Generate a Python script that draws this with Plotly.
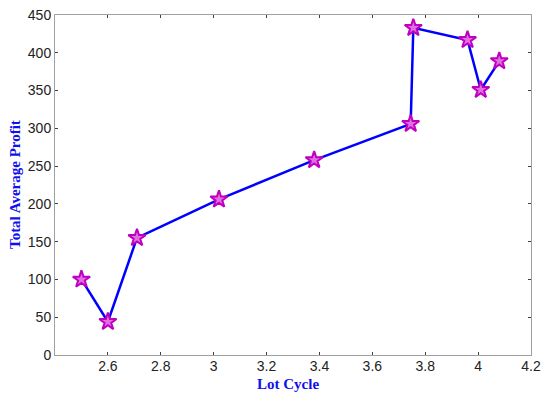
import plotly.graph_objects as go

lot_cycle = [2.50, 2.60, 2.71, 3.02, 3.38, 3.745, 3.755, 3.96, 4.01, 4.08]
total_avg_profit = [100, 44, 155, 206, 258, 306, 433, 417, 351, 389]

x_ticks = [2.6, 2.8, 3.0, 3.2, 3.4, 3.6, 3.8, 4.0, 4.2]
x_tick_labels = ["2.6", "2.8", "3", "3.2", "3.4", "3.6", "3.8", "4", "4.2"]
y_ticks = [0, 50, 100, 150, 200, 250, 300, 350, 400, 450]
x_title = "Lot Cycle"
y_title = "Total Average Profit"

fig = go.Figure()
fig.add_trace(go.Scatter(
    x=lot_cycle, y=total_avg_profit, mode="lines+markers",
    line=dict(color="#0000FF", width=2.5),
    marker=dict(symbol="star", size=13, color="#E070E0", line=dict(width=2, color="#C000C0")),
    showlegend=False, cliponaxis=False,
))

axis_common = dict(
    showline=True, linecolor="#A0A0A0", linewidth=1, mirror="ticks",
    ticks="inside", ticklen=3, tickcolor="#404040", tickwidth=1,
    showgrid=False, zeroline=False, automargin=False,
    tickfont=dict(family="Liberation Sans, Arial", size=14, color="#222222"),
)

title_font = dict(family="Liberation Serif, Times New Roman", size=15, color="#1010EE", weight="bold")

fig.update_layout(
    width=550, height=401,
    margin=dict(l=55, r=19, t=15, b=46),
    paper_bgcolor="white", plot_bgcolor="white",
    xaxis=dict(range=[2.4, 4.2], tickvals=x_ticks, ticktext=x_tick_labels,
               ticklabelstandoff=-2, **axis_common),
    yaxis=dict(range=[0, 450], tickvals=y_ticks, **axis_common),
    annotations=[
        dict(text=x_title, xref="paper", yref="paper", x=0.49, y=0, yanchor="middle",
             yshift=-29, showarrow=False, font=title_font),
        dict(text=y_title, xref="paper", yref="paper", x=0, y=0.5, xanchor="center",
             xshift=-40, textangle=-90, showarrow=False, font=title_font),
    ],
)

fig.write_html("out.html", config={"displayModeBar": False},
               post_script="document.body.style.margin='0';document.body.style.padding='0';")
